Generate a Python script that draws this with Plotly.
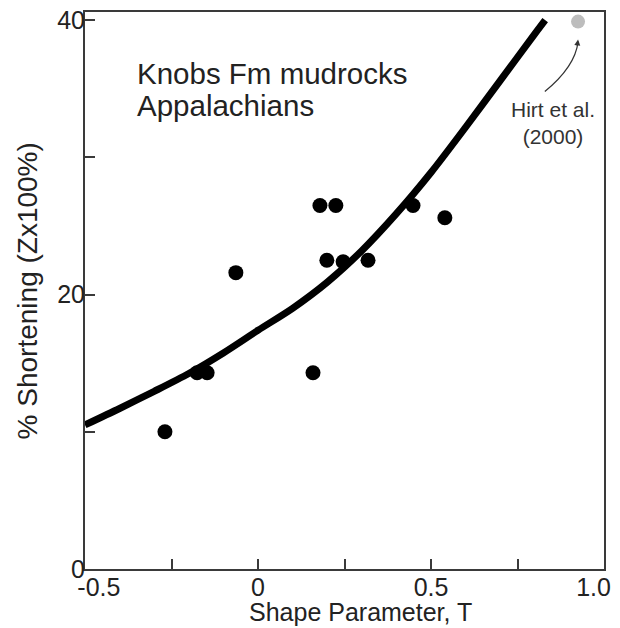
import plotly.graph_objects as go

# Fitted curve
curve_t = [-0.5, -0.4, -0.3, -0.2, -0.1, 0.0, 0.1, 0.2, 0.3, 0.4, 0.5, 0.6, 0.7, 0.8, 0.83]
curve_s = [10.5, 11.7, 12.95, 14.25, 15.75, 17.4, 19.0, 20.9, 23.2, 25.9, 28.9, 32.2, 35.6, 39.0, 40.0]

# Knobs Fm mudrock samples
pts_t = [-0.269, -0.176, -0.147, -0.064, 0.159, 0.179, 0.225, 0.448, 0.540, 0.199, 0.246, 0.318]
pts_s = [10.0, 14.3, 14.3, 21.6, 14.3, 26.5, 26.5, 26.5, 25.6, 22.5, 22.4, 22.5]

# Hirt et al. (2000)
hirt_t = [0.925]
hirt_s = [39.9]

NB = "\u00a0"
x_ticks = [-0.5, -0.25, 0, 0.25, 0.5, 0.75, 1.0]
x_labels = [NB * 4 + "-0.5", "", "0", "", "0.5", "", "1.0" + NB * 3]
y_ticks = [0, 10, 20, 30, 40]
y_labels = ["0", "", "20", "", "40"]

FONT = "Arial, Liberation Sans, Helvetica, sans-serif"
AX = "#3a3a3a"
TXT = "#222222"

fig = go.Figure()
fig.add_trace(go.Scatter(x=curve_t, y=curve_s, mode="lines",
                         line=dict(color="black", width=7, shape="spline", smoothing=0.8),
                         showlegend=False, hoverinfo="skip", cliponaxis=False))
fig.add_trace(go.Scatter(x=pts_t, y=pts_s, mode="markers",
                         marker=dict(color="black", size=15),
                         showlegend=False))
fig.add_trace(go.Scatter(x=hirt_t, y=hirt_s, mode="markers",
                         marker=dict(color="#bdbdbd", size=14),
                         showlegend=False))

# curved arrow from label to Hirt point
ht, hs = hirt_t[0], hirt_s[0]
x0, y0 = ht - 0.096, hs - 5.1
cx, cy = ht - 0.009, hs - 3.3
x1, y1 = ht, hs - 1.5
fig.add_shape(type="path", xref="x", yref="y",
              path=f"M {x0},{y0} Q {cx},{cy} {x1},{y1}",
              line=dict(color="#333333", width=1.2))
fig.add_annotation(x=ht, y=hs - 1.3, xref="x", yref="y", text="", showarrow=True,
                   arrowhead=2, arrowsize=1, arrowwidth=1.2, arrowcolor="#333333",
                   ax=-1, ay=8)

fig.add_annotation(x=-0.355, y=36.1, xref="x", yref="y", text="Knobs Fm mudrocks",
                   showarrow=False, xanchor="left", yanchor="middle",
                   font=dict(family=FONT, size=29.5, color=TXT))
fig.add_annotation(x=-0.355, y=33.75, xref="x", yref="y", text="Appalachians",
                   showarrow=False, xanchor="left", yanchor="middle",
                   font=dict(family=FONT, size=29.5, color=TXT))
fig.add_annotation(x=0.853, y=32.5, xref="x", yref="y", text="Hirt et al.<br>(2000)",
                   showarrow=False, xanchor="center", yanchor="middle", align="center",
                   font=dict(family=FONT, size=21, color="#333333"))

# axis titles
fig.add_annotation(x=0.295, xref="x", y=-0.077, yref="paper", text="Shape Parameter, T",
                   showarrow=False, xanchor="center", yanchor="middle",
                   font=dict(family=FONT, size=25, color=TXT))
fig.add_annotation(x=-0.11, xref="paper", y=0.5, yref="paper", text="% Shortening (Zx100%)",
                   showarrow=False, xanchor="center", yanchor="middle", textangle=-90,
                   font=dict(family=FONT, size=28, color=TXT))

fig.update_layout(
    width=620, height=628,
    margin=dict(l=77, r=24, t=4, b=67, autoexpand=False),
    paper_bgcolor="white", plot_bgcolor="white",
    font=dict(family=FONT, color=TXT),
    showlegend=False,
)
fig.update_xaxes(range=[-0.5, 1.0], tickvals=x_ticks, ticktext=x_labels,
                 ticks="inside", ticklen=10, tickwidth=1.5, tickcolor=AX,
                 showline=True, linecolor=AX, linewidth=2, mirror=True,
                 showgrid=False, zeroline=False, automargin=False,
                 ticklabelstandoff=-5, ticklabeloverflow="allow",
                 tickfont=dict(size=25, color=TXT))
fig.update_yaxes(range=[0, 40.6], tickvals=y_ticks, ticktext=y_labels,
                 ticks="inside", ticklen=10, tickwidth=1.5, tickcolor=AX,
                 showline=True, linecolor=AX, linewidth=2, mirror=True,
                 showgrid=False, zeroline=False, automargin=False,
                 ticklabelstandoff=-7, ticklabeloverflow="allow",
                 tickfont=dict(size=25, color=TXT))

fig.write_html("out.html")
